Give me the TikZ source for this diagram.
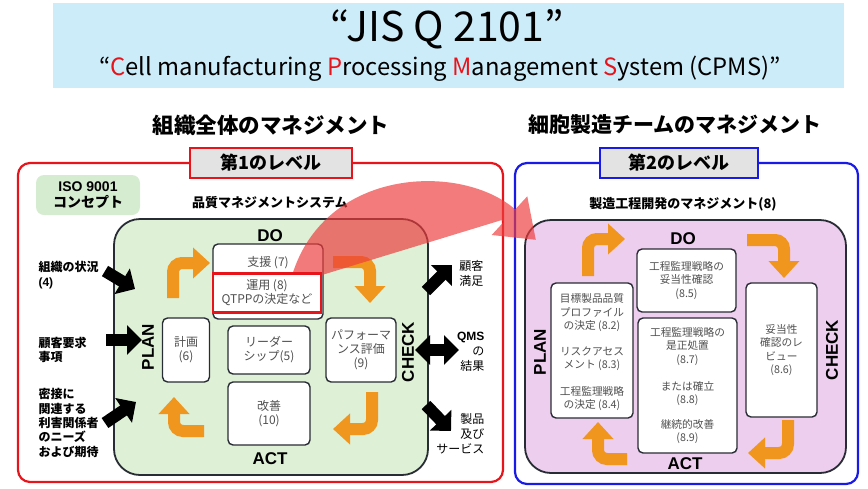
\documentclass[tikz,border=0pt]{standalone}
\usepackage{fontspec}
\setmainfont{Noto Sans CJK JP}
\newfontfamily\ar{Liberation Sans}
\usetikzlibrary{arrows.meta}
\definecolor{bannerc}{RGB}{204,236,250}
\definecolor{greenc}{RGB}{222,240,214}
\definecolor{isoc}{RGB}{214,236,208}
\definecolor{pinkc}{RGB}{238,206,238}
\definecolor{orangec}{RGB}{240,150,30}
\definecolor{redc}{RGB}{232,20,27}
\definecolor{bluec}{RGB}{26,26,230}
\definecolor{grayc}{RGB}{227,227,227}
\definecolor{darkc}{RGB}{40,44,52}
\definecolor{txtc}{RGB}{80,80,80}
\definecolor{arcc}{RGB}{238,60,60}
\tikzset{
  frame/.style={line width=2.2, rounded corners=12},
  lvl/.style={draw, line width=2, fill=grayc, minimum height=30, inner sep=0, font=\fontsize{18}{20}\selectfont\bfseries},
  wbox/.style={draw=darkc, line width=1.4, fill=white, rounded corners=5, inner sep=0},
  btxt/.style={text=txtc, align=center, font=\fontsize{12}{14}\selectfont},
  rtxt/.style={text=txtc, align=center, font=\fontsize{10.7}{13.5}\selectfont},
  pdca/.style={font=\ar\bfseries\fontsize{17}{17}\selectfont},
  lab/.style={font=\fontsize{12}{14.3}\selectfont\bfseries, align=left, anchor=west},
  labr/.style={font=\fontsize{12}{15}\selectfont, align=right, anchor=east},
  oarr/.style={draw=orangec, line width=12, rounded corners=9, -{Triangle[width=30,length=17]}},
  barr/.style={draw=black, line width=12, -{Triangle[width=29,length=15]}},
  dbarr/.style={draw=black, line width=12, {Triangle[width=29,length=15]}-{Triangle[width=29,length=15]}}
}
\begin{document}
\begin{tikzpicture}[x=1pt,y=-1pt]
\useasboundingbox (0,0) rectangle (868,488);
% banner
\fill[bannerc] (53,3) rectangle (844,88);
\node (title) at (447,29) {\fontsize{41}{41}\selectfont “JIS Q 2101”};
\node (sub) at (440,69) {\fontsize{23.8}{25}\selectfont “{\color{redc}C}ell manufacturing {\color{redc}P}rocessing {\color{redc}M}anagement {\color{redc}S}ystem (CPMS)”};
% section titles
\node (t1) at (271,125) {\fontsize{21.5}{22}\selectfont\bfseries 組織全体のマネジメント};
\node (t2) at (675,125) {\fontsize{21}{22}\selectfont\bfseries 細胞製造チームのマネジメント};
% frames
\draw[frame, draw=redc] (18,163) rectangle (503,482);
\draw[frame, draw=bluec] (515,163) rectangle (858,484);
\node[lvl, draw=redc, minimum width=162] (lev1) at (271,163) {第1のレベル};
\node[lvl, draw=bluec, minimum width=158] (lev2) at (679,163) {第2のレベル};
% ISO box
\node[fill=isoc, rounded corners=8, minimum width=104, minimum height=40, inner sep=0, align=center,
      font=\fontsize{14}{16}\selectfont\bfseries] (iso) at (88,195) {{\ar ISO 9001}\\コンセプト};
\node[font=\fontsize{13}{14}\selectfont\bfseries] (qms) at (270,203) {品質マネジメントシステム};
\node[font=\fontsize{13}{14}\selectfont\bfseries] (mfg) at (683,204) {製造工程開発のマネジメント(8)};
% main containers
\draw[fill=greenc, draw=darkc, line width=1.8, rounded corners=26] (114,219) rectangle (428,475);
\draw[fill=pinkc, draw=darkc, line width=1.8, rounded corners=26] (525,220) rectangle (846,473);
\node[pdca] (do1) at (270,236) {DO};
\node[pdca] (act1) at (270,459) {ACT};
\node[pdca, rotate=90] (plan1) at (148,347) {PLAN};
\node[pdca, rotate=90] (check1) at (408,352) {CHECK};
\node[pdca] (do2) at (683,239) {DO};
\node[pdca] (act2) at (685,464) {ACT};
\node[pdca, rotate=90] (plan2) at (540,352) {PLAN};
\node[pdca, rotate=90] (check2) at (832,350) {CHECK};
% left inner boxes
\node[wbox, minimum width=110, minimum height=75] (sup) at (268,281.5) {};
\node[btxt] (suptxt) at (268,263) {支援 (7)};
\node[wbox, minimum width=47, minimum height=64] (plan6) at (186,350) {};
\node[btxt] at (plan6) {計画\\(6)};
\node[wbox, minimum width=82, minimum height=48] (lead5) at (269,350) {};
\node[btxt] at (lead5) {リーダー\\シップ(5)};
\node[wbox, minimum width=70, minimum height=64] (perf9) at (361,350) {};
\node[btxt] at (perf9) {パフォーマ\\ンス評価\\(9)};
\node[wbox, minimum width=82, minimum height=63] (imp10) at (269,413.5) {};
\node[btxt] at (imp10) {改善\\(10)};
% right inner boxes
\node[wbox, minimum width=82, minimum height=135] (b82) at (592,350.5) {};
\node[rtxt] at (592,313) {目標製品品質\\プロファイル\\の決定 (8.2)};
\node[rtxt] at (592,358.5) {リスクアセス\\メント (8.3)};
\node[rtxt] at (592,398.5) {工程監理戦略\\の決定 (8.4)};
\node[wbox, minimum width=99, minimum height=63] (b85) at (686.5,280.5) {};
\node[rtxt] at (b85) {工程監理戦略の\\妥当性確認\\(8.5)};
\node[wbox, minimum width=99, minimum height=135] (b87) at (687.5,385.5) {};
\node[rtxt] at (687.5,346.5) {工程監理戦略の\\是正処置\\(8.7)};
\node[rtxt] at (687.5,393.5) {または確立\\(8.8)};
\node[rtxt] at (687.5,431.5) {継続的改善\\(8.9)};
\node[wbox, minimum width=71, minimum height=134] (b86) at (781.5,350) {};
\node[rtxt] at (b86) {妥当性\\確認のレ\\ビュー\\(8.6)};
% orange arrows left
\coordinate (l1a) at (173,298); \coordinate (l1b) at (173,263); \coordinate (l1c) at (210,263);
\draw[oarr] (l1a) -- (l1b) -- (l1c);
\coordinate (l2a) at (333,262); \coordinate (l2b) at (370,262); \coordinate (l2c) at (370,303);
\draw[oarr] (l2a) -- (l2b) -- (l2c);
\coordinate (l3a) at (372,392); \coordinate (l3b) at (372,429); \coordinate (l3c) at (333,429);
\draw[oarr] (l3a) -- (l3b) -- (l3c);
\coordinate (l4a) at (204,431); \coordinate (l4b) at (174,431); \coordinate (l4c) at (174,397);
\draw[oarr] (l4a) -- (l4b) -- (l4c);
% orange arrows right
\coordinate (r1a) at (588,276); \coordinate (r1b) at (588,239); \coordinate (r1c) at (625,239);
\draw[oarr] (r1a) -- (r1b) -- (r1c);
\coordinate (r2a) at (747,240); \coordinate (r2b) at (784,240); \coordinate (r2c) at (784,278);
\draw[oarr] (r2a) -- (r2b) -- (r2c);
\coordinate (r3a) at (788,420); \coordinate (r3b) at (788,453); \coordinate (r3c) at (748,453);
\draw[oarr] (r3a) -- (r3b) -- (r3c);
\coordinate (r4a) at (627,459); \coordinate (r4b) at (598,459); \coordinate (r4c) at (598,422);
\draw[oarr] (r4a) -- (r4b) -- (r4c);
% outer labels
\node[lab] (in1) at (35,275) {組織の状況\\{\ar\bfseries (4)}};
\node[lab] (in2) at (35,350) {顧客要求\\事項};
\node[lab] (in3) at (35,423) {密接に\\関連する\\利害関係者\\のニーズ\\および期待};
\node[labr] (out1) at (487,273) {顧客\\満足};
\node[labr] (out2) at (488,352) {{\ar\bfseries QMS}\\の\\結果};
\node[labr] (out3) at (488,434) {製品\\及び\\サービス};
% black arrows
\coordinate (a1s) at (105,271); \coordinate (a1e) at (135,289);
\draw[barr] (a1s) -- (a1e);
\coordinate (a2s) at (106,340); \coordinate (a2e) at (142,340);
\draw[barr] (a2s) -- (a2e);
\coordinate (a3s) at (105,423); \coordinate (a3e) at (136,402);
\draw[barr] (a3s) -- (a3e);
\coordinate (b1s) at (426,291); \coordinate (b1e) at (452,265);
\draw[barr] (b1s) -- (b1e);
\coordinate (b2s) at (415,350); \coordinate (b2e) at (459,350);
\draw[dbarr] (b2s) -- (b2e);
\coordinate (b3s) at (426,405); \coordinate (b3e) at (451,431);
\draw[barr] (b3s) -- (b3e);
% big arc
\coordinate (arcs) at (299,282); \coordinate (arce) at (536,240);
\begin{scope}[transparency group, opacity=0.68]
\draw[draw=arcc, fill=arcc, line width=17, -{Triangle[width=50,length=36]}]
  (arcs) .. controls (328,175) and (462,172) .. (arce);
\end{scope}
% red box (operation)
\node[draw=redc, line width=2.6, fill=white, minimum width=108, minimum height=39, inner sep=0, btxt] (ops) at (267,293) {運用 (8)\\QTPPの決定など};
\end{tikzpicture}
\end{document}
